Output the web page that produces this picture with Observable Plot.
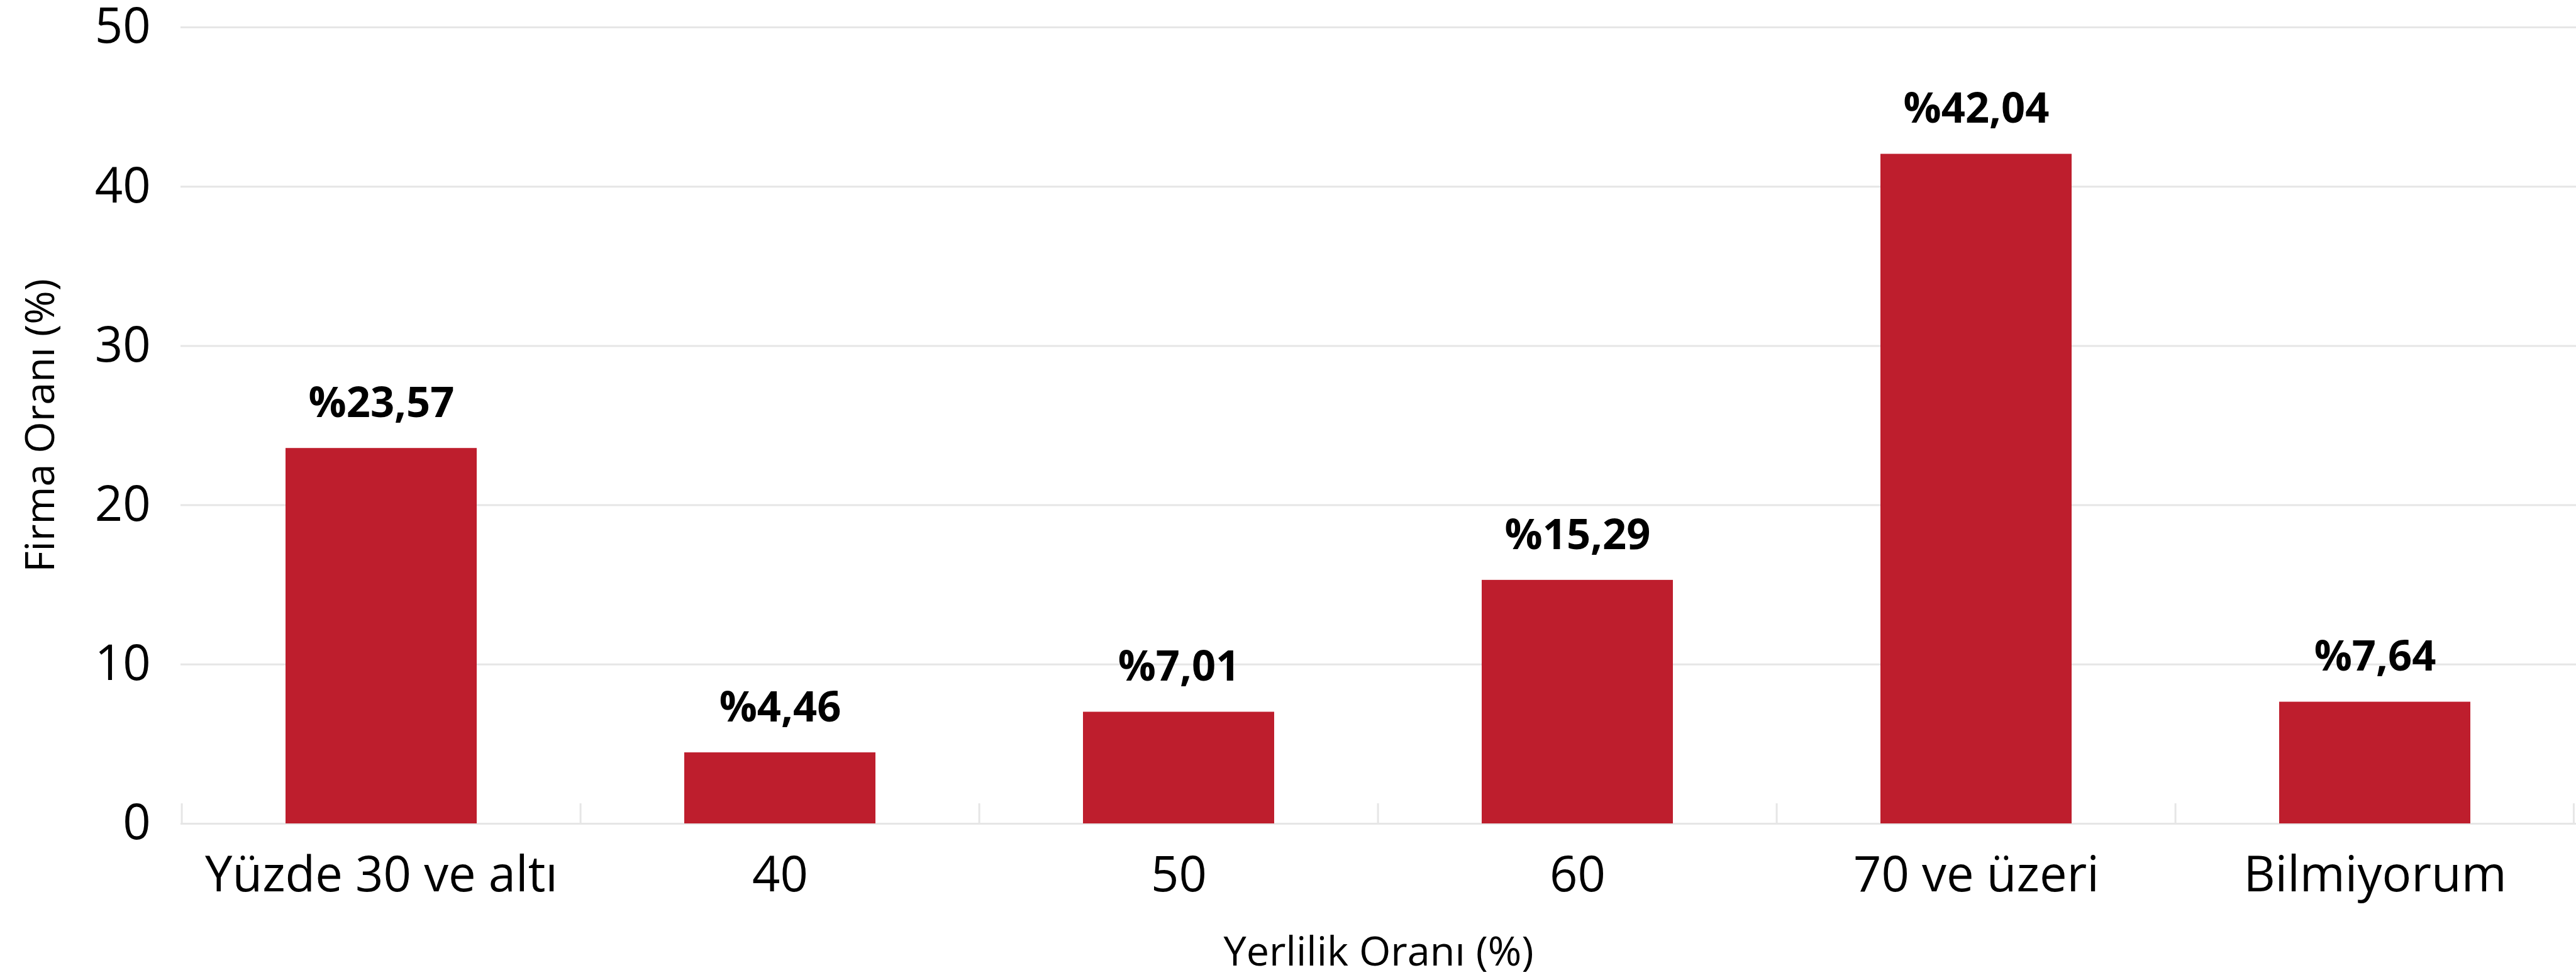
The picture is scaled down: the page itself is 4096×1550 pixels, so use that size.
<!DOCTYPE html>
<html>
<head>
<meta charset="utf-8">
<script src="https://cdn.jsdelivr.net/npm/d3@7"></script>
<script src="https://cdn.jsdelivr.net/npm/@observablehq/plot@0.6"></script>
<style>
  html, body { margin: 0; padding: 0; background: #ffffff; overflow: hidden; }
  #chart svg { display: block; }
</style>
</head>
<body>
<div id="chart"></div>
<script>
// ---- data ----
const categories = ["Yüzde 30 ve altı", "40", "50", "60", "70 ve üzeri", "Bilmiyorum"];
const values = [23.57, 4.46, 7.01, 15.29, 42.04, 7.64];
const yTicks = [0, 10, 20, 30, 40, 50];
const xTitle = "Yerlilik Oranı (%)";
const yTitle = "Firma Oranı (%)";

// ---- layout ----
const S = 0.997;
const W = 4096, H = 1550;
const mL = Math.round(288 * S), mR = 0, mT = Math.round(43.3 * S), mB = H - Math.round(1313 * S);
const barColor = "#be1e2d";
const gridColor = "#e6e6e6";
const tableData = categories.map((c, i) => ({cat: c, val: values[i]}));
const step = (W - mL - mR) / categories.length;
const pxPerUnit = (H - mT - mB) / 50;
const sepLen = 32 * S / pxPerUnit;
const fmt = v => "%" + v.toFixed(2).replace(".", ",");

const chart = Plot.plot({
  width: W,
  height: H,
  marginLeft: mL,
  marginRight: mR,
  marginTop: mT,
  marginBottom: mB,
  style: {fontFamily: "'Open Sans', sans-serif", background: "#ffffff", color: "#000000"},
  x: {domain: categories, paddingInner: 0.52, paddingOuter: 0.26},
  y: {domain: [0, 50], ticks: yTicks},
  marks: [
    Plot.gridY(yTicks, {stroke: gridColor, strokeOpacity: 1, strokeWidth: 3 * S}),
    Plot.ruleX(categories, {x: d => d, dx: -step / 2, y1: 0, y2: sepLen, stroke: gridColor, strokeWidth: 3 * S}),
    Plot.ruleX(categories.slice(-1), {x: d => d, dx: step / 2 - 1.5, y1: 0, y2: sepLen, stroke: gridColor, strokeWidth: 3 * S}),
    Plot.barY(tableData, {x: "cat", y: "val", fill: barColor}),
    Plot.text(tableData, {
      x: "cat", y: "val", text: d => fmt(d.val),
      lineAnchor: "bottom", dy: -50 * S,
      fontSize: 67 * S, fontWeight: 700, fill: "#000000",
      fontFamily: "'Open Sans', sans-serif"
    }),
    Plot.axisX({
      tickSize: 0, tickPadding: 52 * S, fontSize: 78 * S,
      label: xTitle, labelAnchor: "center", labelOffset: 226 * S, labelArrow: false
    }),
    Plot.axisY(yTicks, {
      tickSize: 0, tickPadding: 48 * S, fontSize: 78 * S,
      label: null
    }),
    Plot.axisY({
      ticks: [], tickSize: 0,
      label: yTitle, labelAnchor: "center", labelOffset: 248 * S, fontSize: 65 * S, labelArrow: false
    })
  ]
});
document.getElementById("chart").appendChild(chart);
// axis title font size for x, and make sure no arrows are shown on the titles
chart.querySelectorAll("g[aria-label='x-axis label'] text").forEach(t => {
  t.setAttribute("font-size", 65 * S);
  t.textContent = xTitle;
});
chart.querySelectorAll("g[aria-label='y-axis label'] text").forEach(t => {
  t.textContent = yTitle;
});
</script>
</body>
</html>
